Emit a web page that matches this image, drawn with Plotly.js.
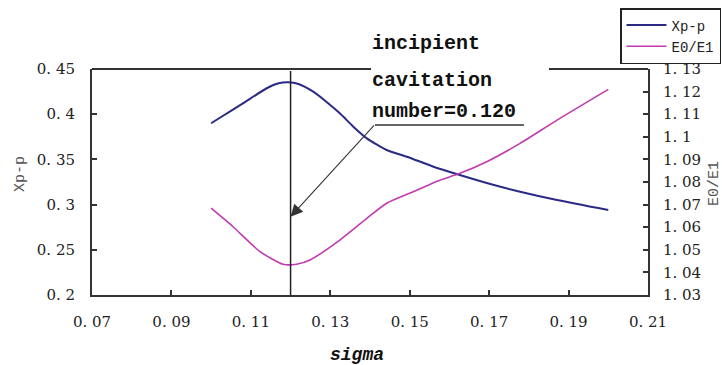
<!DOCTYPE html>
<html>
<head>
<meta charset="utf-8">
<script src="https://cdn.plot.ly/plotly-3.0.1.min.js"></script>
<style>html,body{margin:0;padding:0;background:#fff;}#chart{width:722px;height:365px;}</style>
</head>
<body>
<div id="chart"></div>
<script>
// Xp-p series (left axis)
const xpX = [0.100, 0.102, 0.108, 0.114, 0.117, 0.1194, 0.122, 0.1257, 0.129, 0.1324, 0.1358, 0.1392, 0.1442, 0.1493, 0.156, 0.162, 0.1703, 0.1778, 0.1871, 0.200];
const xpY = [0.390, 0.3955, 0.412, 0.4287, 0.4342, 0.4353, 0.4334, 0.4249, 0.4138, 0.401, 0.3862, 0.3733, 0.3604, 0.353, 0.3419, 0.3336, 0.3228, 0.3143, 0.3051, 0.294];
// E0/E1 series (right axis)
const eX = [0.100, 0.1055, 0.1123, 0.1181, 0.1215, 0.1249, 0.1324, 0.1392, 0.1442, 0.1509, 0.1577, 0.162, 0.1694, 0.1778, 0.1871, 0.200];
const eY = [1.0684, 1.0602, 1.0492, 1.0436, 1.0436, 1.0455, 1.0543, 1.0639, 1.0706, 1.0757, 1.0809, 1.0834, 1.089, 1.0971, 1.1074, 1.121];

const xTickVals = [0.07, 0.09, 0.11, 0.13, 0.15, 0.17, 0.19, 0.21];
const xTickText = ["0. 07", "0. 09", "0. 11", "0. 13", "0. 15", "0. 17", "0. 19", "0. 21"];
const yTickVals = [0.2, 0.25, 0.3, 0.35, 0.4, 0.45];
const yTickText = ["0. 2", "0. 25", "0. 3", "0. 35", "0. 4", "0. 45"];
const y2TickVals = [1.03, 1.04, 1.05, 1.06, 1.07, 1.08, 1.09, 1.10, 1.11, 1.12, 1.13];
const y2TickText = ["1. 03", "1. 04", "1. 05", "1. 06", "1. 07", "1. 08", "1. 09", "1. 1", "1. 11", "1. 12", "1. 13"];

const seriesNames = ["Xp-p", "E0/E1"];
const incipientSigma = 0.12;
const noteLines = ["incipient", "cavitation", "number=0.120"];

const tickFont = {family: "DejaVu Serif, Liberation Serif, serif", size: 15, color: "#222"};
const axisCommon = {
  showline: true, linecolor: "#333", linewidth: 2,
  ticks: "inside", ticklen: 5, tickcolor: "#333", tickwidth: 2,
  showgrid: false, zeroline: false, tickfont: tickFont, fixedrange: true
};

const traces = [
  {x: xpX, y: xpY, name: seriesNames[0], mode: "lines",
   line: {color: "#2b2b86", width: 2, shape: "spline", smoothing: 0.6}, yaxis: "y"},
  {x: eX, y: eY, name: seriesNames[1], mode: "lines",
   line: {color: "#c13bb0", width: 1.6, shape: "spline", smoothing: 0.6}, yaxis: "y2"}
];

const W = 556, H = 226, L = 92, T = 69;
const px = v => (v - L) / W;      // pixel x -> paper
const py = v => (T + H - v) / H;  // pixel y -> paper

const layout = {
  width: 722, height: 365,
  margin: {l: 92, r: 74, t: 69, b: 70, autoexpand: false},
  paper_bgcolor: "#fff", plot_bgcolor: "#fff",
  showlegend: true,
  legend: {x: px(620), y: py(8), xanchor: "left", yanchor: "top",
           bgcolor: "#fff", bordercolor: "#222", borderwidth: 1.5,
           font: {family: "Liberation Mono", size: 14, color: "#222"},
           itemwidth: 40, tracegroupgap: 0},
  xaxis: Object.assign({}, axisCommon, {range: [0.07, 0.21], tickvals: xTickVals, ticktext: xTickText, ticklabelstandoff: 12}),
  yaxis: Object.assign({}, axisCommon, {range: [0.2, 0.45], tickvals: yTickVals, ticktext: yTickText, ticklabelstandoff: 12}),
  yaxis2: Object.assign({}, axisCommon, {range: [1.03, 1.13], tickvals: y2TickVals, ticktext: y2TickText,
           overlaying: "y", side: "right", ticklabelstandoff: 10}),
  shapes: [
    // top frame (broken behind the note)
    {type: "line", xref: "paper", yref: "paper", x0: 0, x1: px(371), y0: 1, y1: 1, line: {color: "#333", width: 2}},
    {type: "line", xref: "paper", yref: "paper", x0: px(549), x1: 1, y0: 1, y1: 1, line: {color: "#333", width: 2}},
    // incipient cavitation marker
    {type: "line", xref: "x", yref: "paper", x0: incipientSigma, x1: incipientSigma, y0: 0, y1: py(71), line: {color: "#222", width: 1.5}},
    // underline of note
    {type: "line", xref: "paper", yref: "paper", x0: px(375), x1: px(524), y0: py(125), y1: py(125), line: {color: "#333", width: 1.5}}
  ],
  annotations: [
    {xref: "paper", yref: "paper", x: px(370), y: py(44), xanchor: "left", yanchor: "middle", showarrow: false,
     text: noteLines[0], font: {family: "Liberation Mono", size: 20, color: "#111", weight: "bold"}},
    {xref: "paper", yref: "paper", x: px(370), y: py(80), xanchor: "left", yanchor: "middle", showarrow: false,
     text: noteLines[1], font: {family: "Liberation Mono", size: 20, color: "#111", weight: "bold"}},
    {xref: "paper", yref: "paper", x: px(370), y: py(111), xanchor: "left", yanchor: "middle", showarrow: false,
     text: noteLines[2], font: {family: "Liberation Mono", size: 20, color: "#111", weight: "bold"}},
    {xref: "x", yref: "y", x: incipientSigma, y: 0.2866, ax: 84, ay: -92, text: " ",
     font: {size: 1}, borderpad: 0, showarrow: true, arrowhead: 2, arrowsize: 2.2, arrowwidth: 1.1,
     arrowcolor: "#333", standoff: 0, startstandoff: 0},
    {xref: "paper", yref: "paper", x: px(357), y: py(355), xanchor: "center", yanchor: "middle", showarrow: false,
     text: "sigma", font: {family: "Liberation Mono", size: 18, color: "#111", weight: "bold", style: "italic"}},
    {xref: "paper", yref: "paper", x: px(20), y: py(174), xanchor: "center", yanchor: "middle", showarrow: false,
     textangle: -90, text: "Xp-p", font: {family: "Liberation Mono", size: 15, color: "#555"}},
    {xref: "paper", yref: "paper", x: px(714), y: py(184), xanchor: "center", yanchor: "middle", showarrow: false,
     textangle: -90, text: "E0/E1", font: {family: "Liberation Mono", size: 15, color: "#555"}}
  ]
};

Plotly.newPlot("chart", traces, layout, {displayModeBar: false, staticPlot: true});
</script>
</body>
</html>
